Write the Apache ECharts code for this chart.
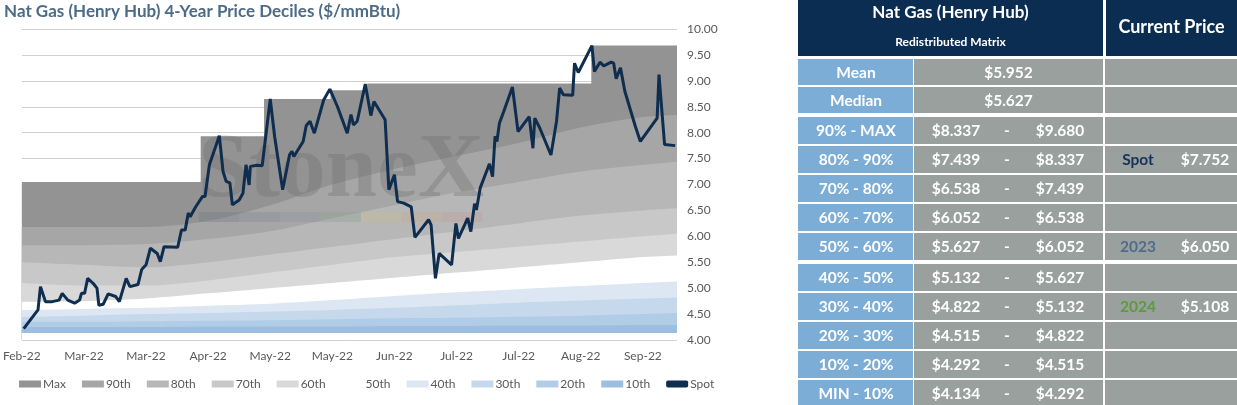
<!DOCTYPE html>
<html><head><meta charset="utf-8">
<script src="https://cdn.jsdelivr.net/npm/echarts@6/dist/echarts.min.js"></script>
<style>html,body{margin:0;padding:0;background:#fff}#c{width:1237px;height:405px}</style>
</head><body><div id="c"></div>
<script>
const monthLabels=['Feb-22','Mar-22','Mar-22','Apr-22','May-22','May-22','Jun-22','Jul-22','Jul-22','Aug-22','Sep-22'];
const spotX=[.03,.06,.26,.30,.38,.49,.60,.65,.74,.85,.93,.96,1.01,1.06,1.15,1.21,1.24,1.31,1.39,1.51,1.57,1.68,1.74,1.87,1.93,2.00,2.07,2.18,2.23,2.29,2.32,2.51,2.57,2.63,2.68,2.71,2.80,2.91,2.95,3.02,3.18,3.24,3.29,3.35,3.39,3.50,3.56,3.61,3.66,3.68,3.79,3.87,4.00,4.07,4.20,4.31,4.35,4.38,4.53,4.58,4.64,4.71,4.86,4.88,4.96,5.08,5.24,5.30,5.34,5.40,5.53,5.62,5.67,5.85,5.91,6.00,6.05,6.15,6.27,6.33,6.35,6.55,6.59,6.66,6.72,6.92,6.99,7.03,7.18,7.23,7.29,7.32,7.38,7.53,7.58,7.62,7.65,7.69,7.76,7.90,7.99,8.17,8.23,8.26,8.34,8.52,8.61,8.66,8.72,8.87,8.90,8.96,9.18,9.22,9.31,9.37,9.49,9.53,9.57,9.64,9.71,9.88,9.96,10.23,10.26,10.35,10.52];
const spotY=[4.22,4.19,4.58,5.03,4.74,4.74,4.77,4.90,4.77,4.71,4.77,4.90,4.90,5.19,5.09,5.00,4.67,4.69,4.89,4.84,4.74,5.19,5.03,5.07,5.36,5.45,5.77,5.67,5.51,5.80,5.81,5.79,6.12,6.12,6.45,6.38,6.57,6.77,6.77,7.38,7.94,7.25,7.06,7.03,6.61,6.70,6.83,7.38,6.99,7.35,7.37,7.36,8.65,7.93,6.90,7.57,7.64,7.54,7.83,8.14,8.22,7.99,8.63,8.65,8.84,8.51,7.99,8.35,8.15,8.22,8.94,8.33,8.60,8.25,6.90,7.19,6.67,6.64,6.57,5.98,5.96,6.32,6.22,5.19,5.67,5.45,6.25,5.96,6.35,6.09,6.63,6.51,6.93,7.40,7.15,7.93,7.83,8.18,8.41,8.88,8.02,8.31,7.70,8.28,8.09,7.57,8.22,8.86,8.73,8.72,9.34,9.16,9.68,9.18,9.36,9.29,9.36,9.34,9.04,9.25,8.80,8.12,7.83,8.28,9.12,7.77,7.75];
const maxX=[0,2.88,2.88,3.9,3.9,4.97,4.97,5.56,5.56,9.17,9.17,10.55];
const maxY=[7.05,7.05,7.93,7.93,8.65,8.65,8.82,8.82,8.95,8.95,9.68,9.68];
const bandX=[0,1,2,3,4,5,6,7,8,9,10,10.55];
const p90=[6.18,6.18,6.18,6.3,6.6,7.0,7.3,7.55,7.8,8.1,8.3,8.34];
const p80=[5.83,5.83,5.85,5.95,6.1,6.35,6.6,6.85,7.05,7.25,7.38,7.44];
const p70=[5.5,5.45,5.4,5.5,5.65,5.8,5.95,6.1,6.25,6.4,6.5,6.54];
const p60=[5.1,5.05,5.05,5.15,5.3,5.45,5.6,5.7,5.8,5.9,6.0,6.05];
const p50=[4.74,4.75,4.8,4.9,5.0,5.1,5.2,5.3,5.4,5.5,5.6,5.63];
const p40=[4.58,4.6,4.62,4.66,4.7,4.77,4.85,4.92,4.98,5.04,5.1,5.13];
const p30=[4.45,4.47,4.5,4.52,4.55,4.58,4.62,4.67,4.72,4.76,4.8,4.82];
const p20=[4.35,4.35,4.36,4.37,4.38,4.4,4.42,4.43,4.45,4.47,4.5,4.52];
const p10=[4.25,4.25,4.25,4.26,4.26,4.26,4.27,4.27,4.28,4.28,4.29,4.29];
const pMin=[4.134,4.134,4.134,4.134,4.134,4.134,4.134,4.134,4.134,4.134,4.134,4.134];
const bandNames=['Max','90th','80th','70th','60th','50th','40th','30th','20th','10th'];
const bandColors=['#939393','#a6a6a6','#b7b7b7','#c8c8c8','#d9d9d9','#ffffff','#dce7f3','#c6d9ec','#b1cce6','#9cbfdf'];
const bandData=[maxY,p90,p80,p70,p60,p50,p40,p30,p20,p10];

const tableRows=[
 ['Mean','$5.952','','',''],['Median','$5.627','','',''],
 ['90% - MAX','$8.337','$9.680','',''],['80% - 90%','$7.439','$8.337','Spot','$7.752'],
 ['70% - 80%','$6.538','$7.439','',''],['60% - 70%','$6.052','$6.538','',''],
 ['50% - 60%','$5.627','$6.052','2023','$6.050'],['40% - 50%','$5.132','$5.627','',''],
 ['30% - 40%','$4.822','$5.132','2024','$5.108'],['20% - 30%','$4.515','$4.822','',''],
 ['10% - 20%','$4.292','$4.515','',''],['MIN - 10%','$4.134','$4.292','','']];
const labelColors={'Spot':'#14335a','2023':'#4d6d8c','2024':'#5c9a3c'};

const series=[];
bandNames.forEach((n,i)=>{
  const xs=i===0?maxX:bandX;
  series.push({name:n,type:'line',data:xs.map((x,k)=>[x,bandData[i][k]]),symbol:'none',smooth:i===0?false:0.3,
    lineStyle:{width:0},areaStyle:{color:bandColors[i],opacity:1,origin:'start'},itemStyle:{color:bandColors[i]},z:2+i,silent:true});
});
series.push({name:'min',type:'line',data:bandX.map((x,k)=>[x,pMin[k]]),symbol:'none',lineStyle:{width:0},areaStyle:{color:'#fff',opacity:1,origin:'start'},z:13});
series.push({name:'Spot',type:'line',data:spotX.map((x,k)=>[x,spotY[k]]),symbol:'none',lineStyle:{width:3,color:'#0f2d4f'},itemStyle:{color:'#0f2d4f'},z:20});

const g=[];
g.push({type:'text',left:4,top:3,style:{text:'Nat Gas (Henry Hub) 4-Year Price Deciles ($/mmBtu)',fill:'#4c6b86',font:'bold 17px Lato, sans-serif'}});
g.push({type:'text',left:198,top:126,z:15,style:{text:'StoneX',fill:'rgba(110,110,110,0.33)',font:'bold 92px "Liberation Serif", serif'}});
['#6f7a86','#7e8a99','#8a96a6','#8aa090','#c8b98a','#c9a98a','#c59a9a'].forEach((c,i)=>g.push({type:'rect',z:15,shape:{x:199+i*40.5,y:212,width:40.5,height:10},style:{fill:c,opacity:0.35}}));
const X0=798,X1=914,X2=1103,X3=1106,X4=1237;
g.push({type:'rect',shape:{x:X0,y:0,width:X2-X0,height:56},style:{fill:'#0b2d52'}});
g.push({type:'rect',shape:{x:X3,y:0,width:X4-X3,height:56},style:{fill:'#0b2d52'}});
g.push({type:'text',x:(X0+X2)/2,y:13,style:{text:'Nat Gas (Henry Hub)',fill:'#fff',font:'bold 17px Lato, sans-serif',align:'center',verticalAlign:'middle'}});
g.push({type:'text',x:(X0+X2)/2,y:42,style:{text:'Redistributed Matrix',fill:'#fff',font:'bold 12px Lato, sans-serif',align:'center',verticalAlign:'middle'}});
g.push({type:'text',x:(X3+X4)/2,y:27,style:{text:'Current Price',fill:'#fff',font:'bold 18px Lato, sans-serif',align:'center',verticalAlign:'middle'}});
let y=59;
tableRows.forEach((r,i)=>{
  if(i===2||i===7) y+=3;
  const h=i<2?27:28;
  g.push({type:'rect',shape:{x:X0,y:y,width:X1-X0-1,height:h-1},style:{fill:'#7badd6'}});
  g.push({type:'rect',shape:{x:X1,y:y,width:X2-X1,height:h-1},style:{fill:'#9aa09e'}});
  g.push({type:'rect',shape:{x:X3-1,y:y,width:X4-X3+1,height:h-1},style:{fill:'#9aa09e'}});
  const cy=y+h/2;
  const f='bold 15.5px Lato, sans-serif';
  g.push({type:'text',x:(X0+X1)/2,y:cy,style:{text:r[0],fill:'#fff',font:f,align:'center',verticalAlign:'middle'}});
  if(i<2){g.push({type:'text',x:(X1+X2)/2,y:cy,style:{text:r[1],fill:'#fff',font:f,align:'center',verticalAlign:'middle'}});}
  else{
    g.push({type:'text',x:956,y:cy,style:{text:r[1],fill:'#fff',font:f,align:'center',verticalAlign:'middle'}});
    g.push({type:'text',x:1007,y:cy,style:{text:'-',fill:'#fff',font:f,align:'center',verticalAlign:'middle'}});
    g.push({type:'text',x:1060,y:cy,style:{text:r[2],fill:'#fff',font:f,align:'center',verticalAlign:'middle'}});
  }
  if(r[3]){
    g.push({type:'text',x:1138,y:cy,style:{text:r[3],fill:labelColors[r[3]],font:f,align:'center',verticalAlign:'middle'}});
    g.push({type:'text',x:1205,y:cy,style:{text:r[4],fill:'#fff',font:f,align:'center',verticalAlign:'middle'}});
  }
  y+=h+ (i===1||i===6?0:1);
});

const chart=echarts.init(document.getElementById('c'));
chart.setOption({
  animation:false,
  grid:{left:20,right:560,top:29,bottom:65},
  xAxis:{type:'value',min:0,max:10.55,interval:1,axisLine:{show:false},axisTick:{show:false},splitLine:{show:false},
    axisLabel:{color:'#595959',fontSize:12,fontFamily:'Lato',margin:10,showMaxLabel:false,formatter:v=>monthLabels[Math.round(v)]||''}},
  yAxis:{type:'value',position:'right',min:4,max:10,interval:0.5,axisLine:{show:false},axisTick:{show:false},
    splitLine:{lineStyle:{color:'#d0d0d0'}},axisLabel:{color:'#595959',fontSize:12,fontFamily:'Lato',margin:10,formatter:v=>v.toFixed(2)}},
  legend:{bottom:10,left:14,itemWidth:22,itemHeight:7,itemGap:16,textStyle:{color:'#595959',fontSize:12,fontFamily:'Lato',padding:[0,0,0,-3]},
    data:bandNames.map((n,i)=>({name:n,icon:'rect'})).concat([{name:'Spot',icon:'roundRect'}])},
  series:series,
  graphic:g
});
</script></body></html>
